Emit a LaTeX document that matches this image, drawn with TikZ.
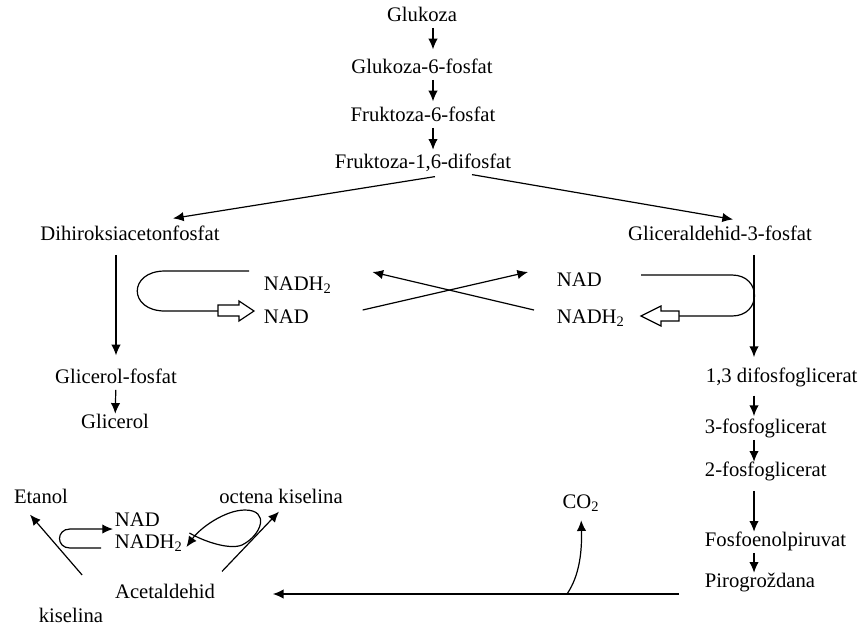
\documentclass[tikz,border=0pt]{standalone}
\usepackage{fontspec}
\setmainfont{Liberation Serif}
\usetikzlibrary{arrows.meta}

\tikzset{every picture/.style={line width=0.9pt}}
\tikzset{
  txt/.style={font=\fontsize{15.5}{18}\selectfont, inner sep=1pt, text height=0.75em, text depth=0.25em},
  arr/.style={-{Latex[length=8pt,width=7pt]}},
  down/.style={arr, shorten <=1pt, shorten >=2pt},
  hollow/.style={fill=white, line join=miter}
}

\begin{document}
\begin{tikzpicture}[x=0.75pt,y=0.75pt,yscale=-1,xscale=1]
\useasboundingbox (0,0) rectangle (859,626);

% Text Node
\node[txt] (glu) at (422,18) {Glukoza};
% Text Node
\node[txt] (g6p) at (422,70) {Glukoza-6-fosfat};
% Text Node
\node[txt] (f6p) at (423,118) {Fruktoza-6-fosfat};
% Text Node
\node[txt] (f16) at (423,165) {Fruktoza-1,6-difosfat};
% Text Node
\node[txt] (dhap) at (130,237) {Dihiroksiacetonfosfat};
% Text Node
\node[txt] (gap) at (720,237) {Gliceraldehid-3-fosfat};
% Text Node
\node[txt, anchor=west] (nadhl) at (262,287) {NADH\textsubscript{2}};
% Text Node
\node[txt, anchor=west] (nadl) at (262,320) {NAD};
% Text Node
\node[txt, anchor=west] (nadr) at (555,283) {NAD};
% Text Node
\node[txt, anchor=west] (nadhr) at (555,320) {NADH\textsubscript{2}};
% Text Node
\node[txt] (glp) at (116,380) {Glicerol-fosfat};
% Text Node
\node[txt] (glc) at (115,425) {Glicerol};
% Text Node
\node[txt, anchor=west] (dfg) at (704,379) {1,3 difosfoglicerat};
% Text Node
\node[txt, anchor=west] (fg3) at (703,430) {3-fosfoglicerat};
% Text Node
\node[txt, anchor=west] (fg2) at (703,473) {2-fosfoglicerat};
% Text Node
\node[txt, anchor=west] (pep) at (703,543) {Fosfoenolpiruvat};
% Text Node
\node[txt, anchor=west] (pir) at (703,584) {Pirogroždana};
% Text Node
\node[txt] (co2) at (581,505) {CO\textsubscript{2}};
% Text Node
\node[txt] (acet) at (165,595) {Acetaldehid};
% Text Node
\node[txt] (kis) at (71,619) {kiselina};
% Text Node
\node[txt] (eta) at (41,500) {Etanol};
% Text Node
\node[txt] (octk) at (281,500) {octena kiselina};
% Text Node
\node[txt, anchor=west] (nads) at (113,523) {NAD};
% Text Node
\node[txt, anchor=west] (nadhs) at (113,545) {NADH\textsubscript{2}};

\coordinate (tcol) at (433,0);
\coordinate (rcol) at (754,0);

%Straight Lines: main chain
\draw[down, shorten >=9pt] (glu.south -| tcol) -- (g6p.north -| tcol);
\draw[down, shorten >=6pt] (g6p.south -| tcol) -- (f6p.north -| tcol);
\draw[down, shorten >=5pt] (f6p.south -| tcol) -- (f16.north -| tcol);
\draw[arr] ([shift={(12,3)}]f16.south) -- ([shift={(43,-10)}]dhap.north);
\draw[arr] ([shift={(49,1)}]f16.south) -- ([shift={(13,-9)}]gap.north);

%Straight Lines: left and right branch
\draw[arr, shorten <=7pt, shorten >=12pt] (dhap.south -| glp.north) -- (glp.north);
\draw[down] (glp) -- (glc);
\draw[arr, shorten <=7pt, shorten >=10pt] (gap.south -| rcol) -- (dfg.north -| rcol);
\draw[down, shorten <=6pt, shorten >=4pt] (dfg.south -| rcol) -- (fg3.north -| rcol);
\draw[down] (fg3.south -| rcol) -- (fg2.north -| rcol);
\draw[down, shorten <=7pt] (fg2.south -| rcol) -- (pep.north -| rcol);
\draw[down] (pep.south -| rcol) -- (pir.north -| rcol);

%Straight Lines: crossing
\draw[arr] ([shift={(-21,-10)}]nadhr.west) -- ([shift={(39,-15)}]nadhl.east);
\draw[arr] ([shift={(52,-10)}]nadl.east) -- ([shift={(-27,-11)}]nadr.west);

%Curve Lines: left loop
\coordinate (ltip) at ([shift={(-8,-9)}]nadl.west);
\draw ([shift={(-13,-16)}]nadhl.west) -- (165,271) .. controls (128,271) and (128,311) .. (165,311) -- ([xshift=-27pt]ltip);
\draw[hollow] (ltip) -- ++(-15,-10) -- ++(0,4) -- ++(-21,0) -- ++(0,11) -- ++(21,0) -- ++(0,5) -- cycle;

%Curve Lines: right loop
\coordinate (rtip) at ([shift={(86,-4)}]nadhr.west);
\draw ([shift={(86,-8)}]nadr.west) -- (732,275) .. controls (762,275) and (762,316) .. (732,316) -- ([xshift=28pt]rtip);
\draw[hollow] (rtip) -- ++(20,-10) -- ++(0,5) -- ++(18,0) -- ++(0,10) -- ++(-18,0) -- ++(0,5) -- cycle;

%Straight Lines: pyruvate to acetaldehyde
\draw[arr] ([shift={(-24,10)}]pir.west) -- ([shift={(56,-1)}]acet.east);
\coordinate (co2base) at (567,594);
\draw[arr, shorten >=5pt] (co2base) .. controls (580,575) and (582,550) .. (co2.south);

%Straight Lines: acetaldehyde branches
\draw[arr] ([shift={(-31,-20)}]acet.west) -- ([shift={(-11,6)}]eta.south);
\draw[arr] ([shift={(57,-15)}]acet.north) -- ([shift={(-2,3)}]octk.south);

%Curve Lines: small loops
\draw[arr] ([shift={(-12,3)}]nadhs.west) -- (70,548) .. controls (56,548) and (56,529) .. (70,529) -- ([shift={(0,6)}]nads.west);
\draw[arr] ([shift={(5,-12)}]nadhs.east) .. controls (205,542) and (230,550) .. (242,545) .. controls (262,535) and (270,510) .. (245,510) .. controls (225,510) and (200,528) .. ([shift={(2,2)}]nadhs.east);

\end{tikzpicture}
\end{document}
